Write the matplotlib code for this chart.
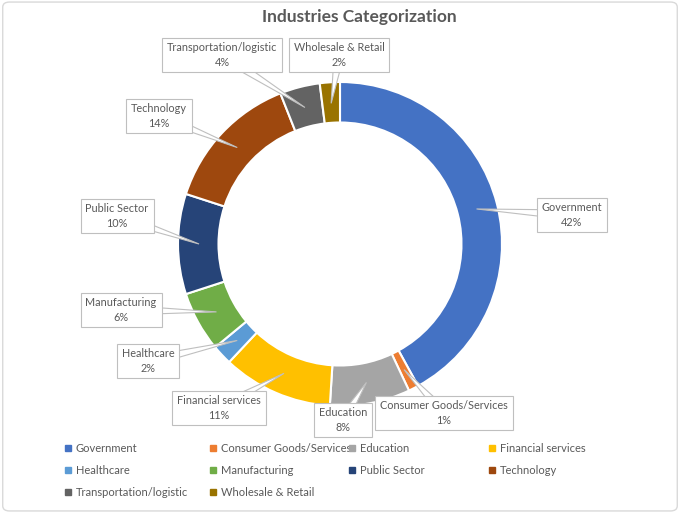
import numpy as np
import matplotlib.pyplot as plt
from matplotlib.patches import Polygon, FancyBboxPatch
from matplotlib.lines import Line2D

plt.rcParams['font.family'] = ['Lato', 'DejaVu Sans']

industries = ['Government', 'Consumer Goods/Services', 'Education', 'Financial services',
              'Healthcare', 'Manufacturing', 'Public Sector', 'Technology',
              'Transportation/logistic', 'Wholesale & Retail']
shares = [42, 1, 8, 11, 2, 6, 10, 14, 4, 2]
colors = ['#4472C4', '#ED7D31', '#A5A5A5', '#FFC000', '#5B9BD5', '#70AD47',
          '#264478', '#9E480E', '#636363', '#997300']

# label box centres in pixel coords (x, y from top)
label_pos = [(572, 215), (444, 413), (343, 420), (219, 408), (148, 361),
             (121, 310), (117, 216), (159, 116), (222, 55), (339, 55)]

W, H = 680, 513
fig = plt.figure(figsize=(6.8, 5.13), dpi=100)
ax = fig.add_axes([0, 0, 1, 1])

cx, cy, R = 340, H - 244, 162
wedges, _ = ax.pie(shares, colors=colors, startangle=90, counterclock=False,
                   center=(cx, cy), radius=R, frame=True,
                   wedgeprops=dict(width=R * 0.25, edgecolor='white', linewidth=1.5))
ax.set_xlim(0, W)
ax.set_ylim(0, H)
ax.set_aspect('equal')
ax.axis('off')

txt = '#595959'
for w, name, v, (lx, ly) in zip(wedges, industries, shares, label_pos):
    ang = np.deg2rad((w.theta1 + w.theta2) / 2)
    rm = R * 0.87
    tx, ty = cx + rm * np.cos(ang), cy + rm * np.sin(ang)
    bx, by = lx, H - ly
    d = np.array([tx - bx, ty - by])
    n = np.array([-d[1], d[0]]) / np.hypot(*d)
    base1 = np.array([bx, by]) + n * 5
    base2 = np.array([bx, by]) - n * 5
    ax.add_patch(Polygon([base1, base2, (tx, ty)], closed=True, fc='white',
                         ec='#BFBFBF', lw=0.8, zorder=3))
    ax.text(bx, by, f'{name}\n{v}%', ha='center', va='center', fontsize=7.8,
            color=txt, linespacing=1.35, zorder=5,
            bbox=dict(boxstyle='square,pad=0.45', fc='white', ec='#BFBFBF', lw=0.8))

ax.text(359, H - 17, 'Industries Categorization', ha='center', va='center',
        fontsize=12.5, fontweight='bold', color=txt)

# legend, one legend per column like Excel's grid
handles = [Line2D([], [], marker='s', ls='none', color=c, markersize=4) for c in colors]
cols = [[0, 4, 8], [1, 5, 9], [2, 6], [3, 7]]
col_x = [59, 204, 343, 483]
for idx, x0 in zip(cols, col_x):
    leg = ax.legend([handles[i] for i in idx], [industries[i] for i in idx],
                    loc='upper left', bbox_to_anchor=(x0, H - 437),
                    bbox_transform=ax.transData, frameon=False, fontsize=8,
                    handlelength=0.6, handletextpad=0.4,
                    labelspacing=1.0, borderpad=0)
    for t in leg.get_texts():
        t.set_color(txt)
    ax.add_artist(leg)
ax.legend_ = None  # last one is already added as an artist

fig.add_artist(FancyBboxPatch((0.004, 0.004), 0.992, 0.992,
                              boxstyle='round,pad=0,rounding_size=0.01',
                              transform=fig.transFigure, fc='none',
                              ec='#D9D9D9', lw=1))

fig.savefig('out.png', dpi=100)
